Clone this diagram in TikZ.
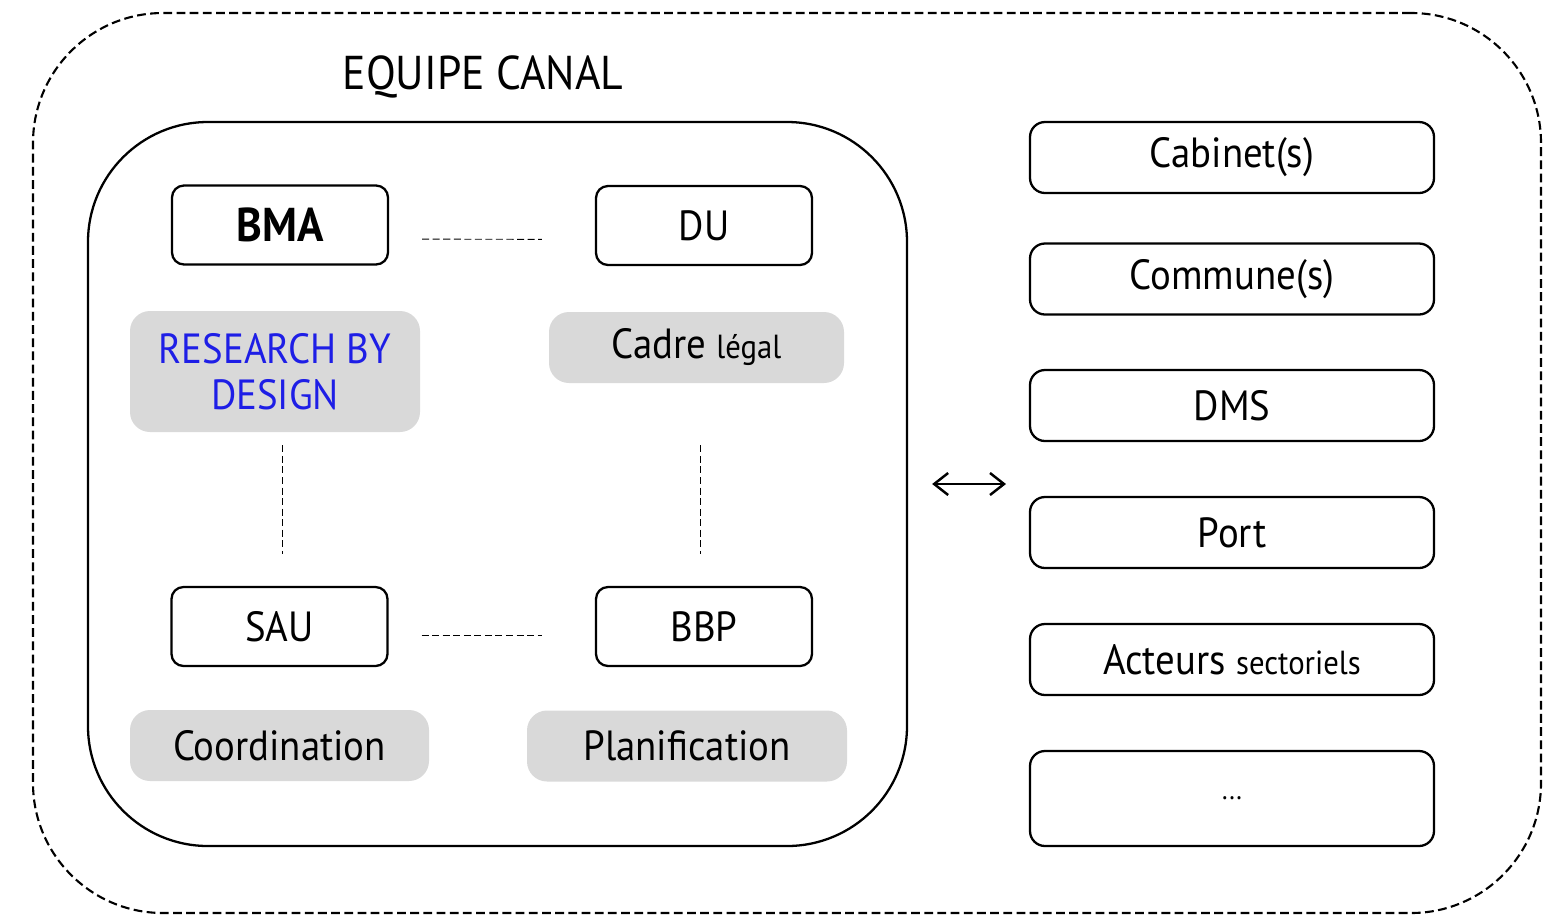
\documentclass[tikz,border=0pt]{standalone}
\usepackage{fontspec}
\setmainfont{PT Sans}[FakeStretch=0.92]
\usetikzlibrary{arrows.meta,positioning}
\definecolor{fondgris}{RGB}{217,217,217}
\definecolor{bleurbd}{RGB}{30,30,230}

\begin{document}
\begin{tikzpicture}[
    box/.style={draw,line width=1.3pt,rounded corners=0.24cm,minimum width=4.32cm,minimum height=1.58cm,font=\fontsize{24}{28}\selectfont},
    grisbox/.style={fill=fondgris,rounded corners=0.4cm,minimum height=1.42cm,font=\fontsize{24}{26}\selectfont},
    droite/.style={draw,line width=1.3pt,rounded corners=0.3cm,minimum width=8.08cm,minimum height=1.42cm,font=\fontsize{24}{28}\selectfont},
    lien/.style={dashed,dash pattern=on 4pt off 2pt,line width=0.5pt}]
    \useasboundingbox (0,0) rectangle (30.86,-18.46);
    \node[draw,dashed,dash pattern=on 5pt off 2.5pt,line width=1.2pt,rounded corners=2.6cm,minimum width=30.16cm,minimum height=18cm] (canal) at (15.74,-9.26) {};
    \node[font=\fontsize{27}{30}\selectfont] (titre) at (9.66,-1.54) {EQUIPE CANAL};
    \node[draw,line width=1.3pt,rounded corners=2.4cm,minimum width=16.38cm,minimum height=14.48cm] (equipe) at (9.95,-9.68) {};
    \node[box,font=\fontsize{27}{30}\selectfont\bfseries] (bma) at (5.6,-4.5) {BMA};
    \node[box] (du) at (14.08,-4.51) {DU};
    \node[grisbox,minimum width=5.8cm,minimum height=2.42cm,align=center,text=bleurbd] (rbd) at (5.5,-7.43) {RESEARCH BY\\DESIGN};
    \node[grisbox,minimum width=5.9cm] (cadre) at (13.93,-6.95) {Cadre {\fontsize{19}{22}\selectfont légal}};
    \node[box] (sau) at (5.59,-12.53) {SAU};
    \node[box] (bbp) at (14.08,-12.53) {BBP};
    \node[grisbox,minimum width=5.98cm] (coord) at (5.59,-14.91) {Coordination};
    \node[grisbox,minimum width=6.4cm] (plan) at (13.74,-14.92) {Planification};
    \draw[lien,shorten <=0.66cm,shorten >=1.06cm] ([yshift=-0.28cm]bma.east) -- ([yshift=-0.28cm]du.west);
    \draw[lien,shorten <=0.66cm,shorten >=1.06cm] ([yshift=-0.17cm]sau.east) -- ([yshift=-0.17cm]bbp.west);
    \draw[lien,shorten <=0.26cm,shorten >=0.64cm] ([xshift=0.14cm]rbd.south) -- ([xshift=0.14cm]rbd.south |- sau.north);
    \draw[lien,shorten <=1.24cm,shorten >=0.64cm] ([xshift=0.07cm]cadre.south) -- ([xshift=0.07cm]cadre.south |- bbp.north);
    \node[droite] (r1) at (24.64,-3.15) {Cabinet(s)};
    \node[droite] (r2) at (24.64,-5.58) {Commune(s)};
    \node[droite] (r3) at (24.64,-8.11) {DMS};
    \node[droite] (r4) at (24.64,-10.65) {Port};
    \node[droite] (r5) at (24.64,-13.19) {Acteurs {\fontsize{19}{22}\selectfont sectoriels}};
    \node[droite,minimum height=1.9cm,font=\fontsize{16}{20}\selectfont] (r6) at (24.64,-15.97) {...};
    \coordinate (partenaires) at (20.12,-9.68);
    \draw[{Straight Barb[length=0.28cm,width=0.44cm]}-{Straight Barb[length=0.28cm,width=0.44cm]},line width=1.4pt,shorten <=0.48cm] (equipe.east) -- (partenaires);
\end{tikzpicture}
\end{document}
